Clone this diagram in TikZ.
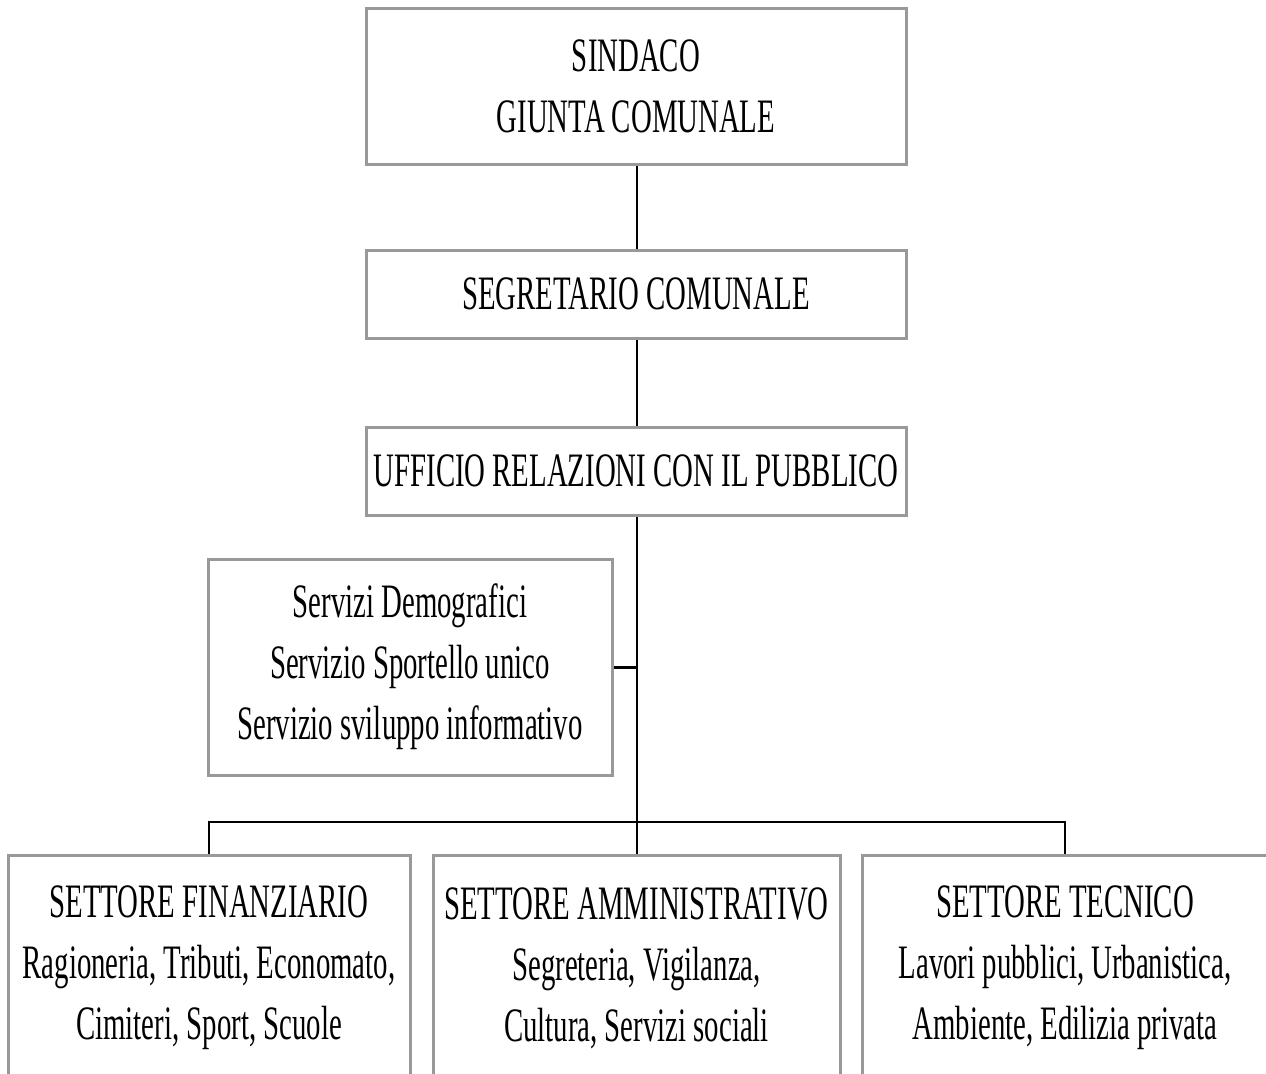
\documentclass[tikz,border=0pt]{standalone}
\usepackage{fontspec}
\setmainfont{Liberation Serif}[FakeStretch=0.6]
\usepackage{tikz}
\definecolor{boxgray}{HTML}{999999}

\begin{document}
\begin{tikzpicture}[x=0.5pt,y=-0.5pt,
  box/.style={draw=boxgray,line width=1.5pt,fill=white,align=center,inner sep=0pt,
    font=\fontsize{24}{30.5}\selectfont},
  link/.style={draw=black,line width=1pt}]
\useasboundingbox (0,0) rectangle (1266,1073);
\clip (0,0) rectangle (1266,1073);
% vertici
\node[box,minimum width=270pt,minimum height=78pt] (sind) at (636,86) {SINDACO\\GIUNTA COMUNALE};
\node[box,minimum width=270pt,minimum height=44pt] (segr) at (636,294) {SEGRETARIO COMUNALE};
\node[box,minimum width=270pt,minimum height=44pt] (urp) at (636,471) {UFFICIO RELAZIONI CON IL PUBBLICO};
\node[box,minimum width=202pt,minimum height=108pt] (serv) at (410,667) {Servizi Demografici\\Servizio Sportello unico\\Servizio sviluppo informativo};
% settori
\node[box,minimum width=201pt,minimum height=112.5pt] (fin) at (209,968) {SETTORE FINANZIARIO\\Ragioneria, Tributi, Economato,\\Cimiteri, Sport, Scuole};
\node[box,minimum width=203.5pt,minimum height=112.5pt] (amm) at (636.5,968) {SETTORE AMMINISTRATIVO\\Segreteria, Vigilanza,\\Cultura, Servizi sociali};
\node[box,minimum width=203pt,minimum height=112.5pt] (tec) at (1065,968) {SETTORE TECNICO\\Lavori pubblici, Urbanistica,\\Ambiente, Edilizia privata};
\coordinate (bus) at (637,822);
% collegamenti
\draw[link] (sind.south -| bus) -- (segr.north -| bus);
\draw[link] (segr.south -| bus) -- (urp.north -| bus);
\draw[link] (urp.south -| bus) -- (bus) -- (amm.north -| bus);
\draw[link,line width=1.5pt] (serv.east) -- (serv.east -| bus);
\draw[link] (fin.north) |- (bus) -| (tec.north);
\end{tikzpicture}
\end{document}
